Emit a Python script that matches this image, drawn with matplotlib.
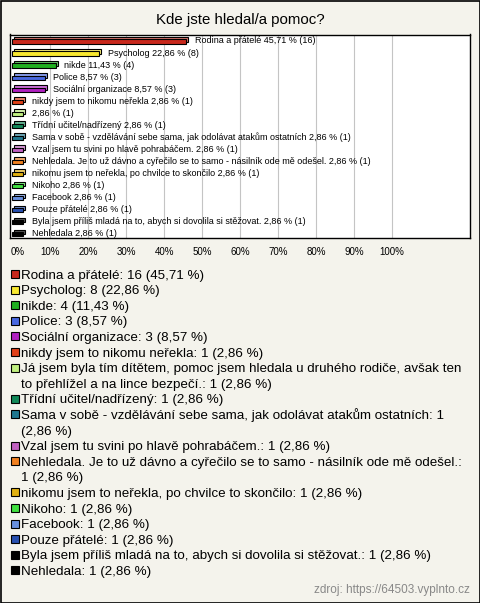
import matplotlib
matplotlib.use("Agg")
import matplotlib.pyplot as plt
from matplotlib.patches import Rectangle
import matplotlib.colors as mcolors
import matplotlib.transforms as mtrans

plt.rcParams['font.family'] = ['Liberation Sans', 'DejaVu Sans']

title = "Kde jste hledal/a pomoc?"
categories = [
    "Rodina a přátelé", "Psycholog", "nikde", "Police", "Sociální organizace",
    "nikdy jsem to nikomu neřekla",
    "Já jsem byla tím dítětem, pomoc jsem hledala u druhého rodiče, avšak ten\nto přehlížel a na lince bezpečí.",
    "Třídní učitel/nadřízený",
    "Sama v sobě - vzdělávání sebe sama, jak odolávat atakům ostatních",
    "Vzal jsem tu svini po hlavě pohrabáčem.",
    "Nehledala. Je to už dávno a cyřečilo se to samo - násilník ode mě odešel.",
    "nikomu jsem to neřekla, po chvilce to skončilo",
    "Nikoho", "Facebook", "Pouze přátelé",
    "Byla jsem příliš mladá na to, abych si dovolila si stěžovat.",
    "Nehledala",
]
bar_names = [
    "Rodina a přátelé", "Psycholog", "nikde", "Police", "Sociální organizace",
    "nikdy jsem to nikomu neřekla", "",
    "Třídní učitel/nadřízený",
    "Sama v sobě - vzdělávání sebe sama, jak odolávat atakům ostatních",
    "Vzal jsem tu svini po hlavě pohrabáčem.",
    "Nehledala. Je to už dávno a cyřečilo se to samo - násilník ode mě odešel.",
    "nikomu jsem to neřekla, po chvilce to skončilo",
    "Nikoho", "Facebook", "Pouze přátelé",
    "Byla jsem příliš mladá na to, abych si dovolila si stěžovat.",
    "Nehledala",
]
counts = [16, 8, 4, 3, 3, 1, 1, 1, 1, 1, 1, 1, 1, 1, 1, 1, 1]
percents = [45.71, 22.86, 11.43, 8.57, 8.57, 2.86, 2.86, 2.86, 2.86, 2.86,
            2.86, 2.86, 2.86, 2.86, 2.86, 2.86, 2.86]
colors = ["#c8281c", "#f8e830", "#20b020", "#4868e0", "#b020c0", "#e04018",
          "#c0f080", "#108858", "#207890", "#c060c0", "#f08020", "#e0b010",
          "#40e040", "#6890e0", "#2850b0", "#000000", "#000000"]
xticks = [0, 10, 20, 30, 40, 50, 60, 70, 80, 90, 100]
source = "zdroj: https://64503.vyplnto.cz"

W, H = 480, 603
bg = "#f4f3ec"
fig = plt.figure(figsize=(W / 100, H / 100), dpi=100, facecolor=bg)

def fmt(v):
    return f"{v:.2f}".replace(".", ",")

# main bar axes
ax = fig.add_axes([10 / W, 1 - 238.5 / H, 460 / W, 204 / H], facecolor="white")
n = len(categories)
ys = list(range(n))
bh = 0.36
dx = 0.6
dy = 0.13
light = [mcolors.to_hex([c + (1 - c) * 0.35 for c in mcolors.to_rgb(col)]) for col in colors]
ax.barh([y - dy for y in ys], percents, left=dx, height=bh, color=light,
        edgecolor="black", linewidth=0.8, zorder=3)
ax.barh([y + dy * 0.4 for y in ys], percents, height=bh, color=colors,
        edgecolor="black", linewidth=0.8, zorder=4)
for y, name, p, c in zip(ys, bar_names, percents, counts):
    lab = (name + " " if name else "") + f"{fmt(p)} % ({c})"
    ax.text(p + 2.3, y, lab, va="center", ha="left", fontsize=6.5, zorder=5)
ax.set_xlim(-0.55, 120.5)
ax.set_ylim(n - 1 + 0.43, -0.54)
ax.set_yticks([])
ax.set_xticks(xticks)
ax.set_xticklabels([f"{t}%" for t in xticks], fontsize=7)
ax.tick_params(axis="x", length=0, pad=6)
off = mtrans.ScaledTranslation(6 / 100, 0, fig.dpi_scale_trans)
lbl0 = ax.get_xticklabels()[0]
lbl0.set_transform(lbl0.get_transform() + off)
for t in xticks[1:]:
    ax.axvline(t, color="#c4c4c4", linewidth=0.8, zorder=1)
for s in ax.spines.values():
    s.set_color("black")
    s.set_linewidth(1.0)

# overlay for title, legend, border (pixel coordinates)
ov = fig.add_axes([0, 0, 1, 1], facecolor="none")
ov.set_xlim(0, W)
ov.set_ylim(H, 0)
ov.axis("off")
ov.add_patch(Rectangle((0.5, 0.5), W - 1, H - 1, fill=False, edgecolor="black", linewidth=1.2))
ov.text(W / 2, 20, title, ha="center", va="center", fontsize=10.8)

line_h = 15.6
y0 = 274
line = 0
for name, p, c, col in zip(categories, percents, counts, colors):
    y = y0 + line * line_h
    ov.add_patch(Rectangle((11, y - 4), 8, 8, facecolor=col, edgecolor="black", linewidth=0.8))
    txt = f"{name}: {c} ({fmt(p)} %)"
    if name.startswith("Sama v sobě"):
        txt = f"{name}: {c}\n({fmt(p)} %)"
    elif name.startswith("Nehledala. Je"):
        txt = f"{name}:\n{c} ({fmt(p)} %)"
    for i, part in enumerate(txt.split("\n")):
        ov.text(21, y + 4.5 + i * line_h, part, ha="left", va="baseline", fontsize=9.6)
    line += txt.count("\n") + 1

ov.text(470, 590, source, ha="right", va="center", fontsize=8.5, color="#888888")

fig.savefig("out.png", dpi=100, facecolor=bg)
